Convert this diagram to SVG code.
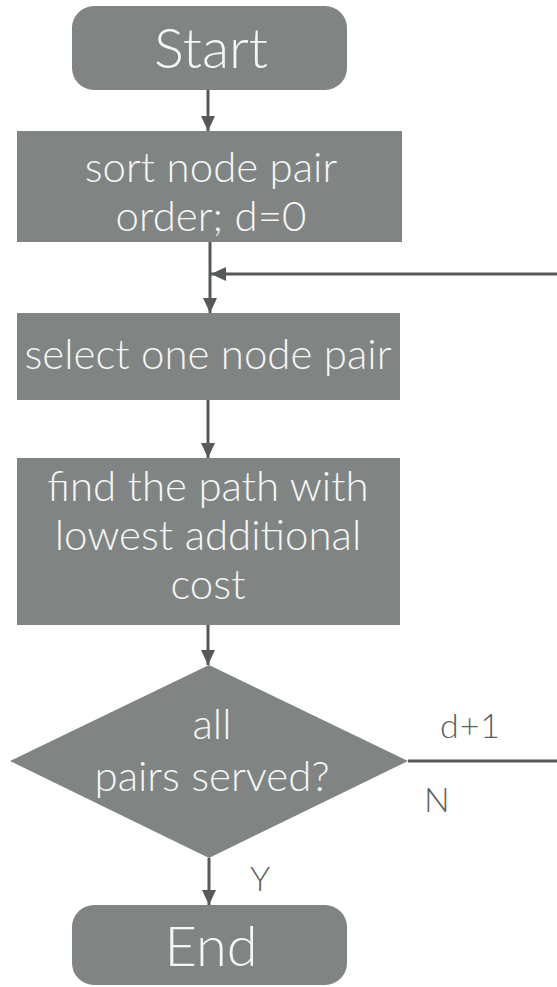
<svg xmlns="http://www.w3.org/2000/svg" width="557" height="987" viewBox="0 0 557 987">
<defs>
<marker id="ah" markerWidth="16" markerHeight="16" viewBox="0 0 16 16" refX="15" refY="8" orient="auto" markerUnits="userSpaceOnUse">
<path d="M0,1 L15,8 L0,15 Z" fill="#555a58"/>
</marker>
<style>
.n{fill:#808583;}
.t{font-family:Lato,"Liberation Sans",sans-serif;font-weight:300;fill:#f6f6f6;text-anchor:middle;}
.big{font-size:56px;}
.mid{font-size:42px;}
.lbl{font-family:Lato,"Liberation Sans",sans-serif;font-weight:300;fill:#5a5f5d;font-size:34px;}
.c{stroke:#555a58;stroke-width:3;fill:none;}
</style>
</defs>
<rect width="557" height="987" fill="#ffffff"/>
<g id="connectors">
<line class="c" x1="208" y1="90" x2="208" y2="131" marker-end="url(#ah)"/>
<line class="c" x1="210" y1="242" x2="210" y2="313" marker-end="url(#ah)"/>
<line class="c" x1="557" y1="274" x2="211" y2="274" marker-end="url(#ah)"/>
<line class="c" x1="208" y1="400" x2="208" y2="458" marker-end="url(#ah)"/>
<line class="c" x1="208" y1="625" x2="208" y2="665" marker-end="url(#ah)"/>
<line class="c" x1="408" y1="761" x2="557" y2="761"/>
<line class="c" x1="209" y1="858" x2="209" y2="905" marker-end="url(#ah)"/>
<text class="lbl" x="440" y="738" textLength="60">d+1</text>
<text class="lbl" x="424" y="812">N</text>
<text class="lbl" x="250" y="891">Y</text>
</g>
<g id="start">
<rect class="n" x="72" y="6" width="275" height="84" rx="22"/>
<text class="t big" x="211" y="68">Start</text>
</g>
<g id="sort">
<rect class="n" x="17" y="131" width="385" height="111"/>
<text class="t mid" x="211" y="182">sort node pair</text>
<text class="t mid" x="211" y="231">order; d=0</text>
</g>
<g id="select">
<rect class="n" x="17" y="313" width="383" height="87"/>
<text class="t mid" x="208" y="369">select one node pair</text>
</g>
<g id="find">
<rect class="n" x="17" y="458" width="383" height="167"/>
<text class="t mid" x="208" y="501">find the path with</text>
<text class="t mid" x="208" y="550">lowest additional</text>
<text class="t mid" x="208" y="599">cost</text>
</g>
<g id="decision">
<polygon class="n" points="10,761 209,665 408,761 209,858"/>
<text class="t mid" x="212" y="739">all</text>
<text class="t mid" x="212" y="791">pairs served?</text>
</g>
<g id="end">
<rect class="n" x="72" y="905" width="275" height="80" rx="22"/>
<text class="t big" x="211" y="966">End</text>
</g>
</svg>
